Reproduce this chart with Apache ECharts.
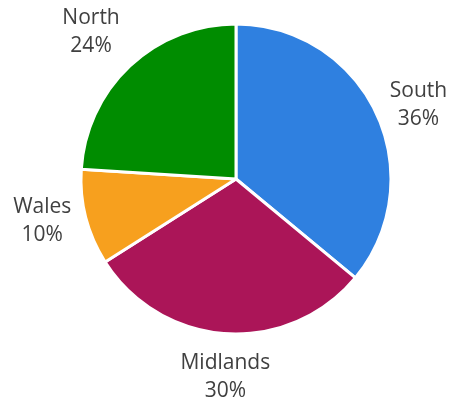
<!DOCTYPE html>
<html>
<head>
<meta charset="utf-8">
<script src="https://cdn.jsdelivr.net/npm/echarts@6/dist/echarts.min.js"></script>
<style>
  html, body { margin: 0; padding: 0; background: #fff; }
  #main { width: 453px; height: 405px; }
</style>
</head>
<body>
<div id="main"></div>
<script>
var regions = ['South', 'Midlands', 'Wales', 'North'];
var shares = [36, 30, 10, 24];
var colours = ['#2F80E0', '#AB1558', '#F7A01E', '#008C00'];

var pieCenter = [236, 179];

var pieData = [];
for (var i = 0; i < regions.length; i++) {
    pieData.push({ name: regions[i], value: shares[i], itemStyle: { color: colours[i] } });
}

function clamp1(v) {
    return Math.max(-1, Math.min(1, v));
}

// push the label box away from the anchor point, more so along the main direction
function spread(n, k) {
    var a = Math.abs(n) - 0.4;
    if (a < 0) a = 0;
    return (n < 0 ? -1 : 1) * clamp1(a * k);
}

var myChart = echarts.init(document.getElementById('main'));
var option = {
    animation: false,
    series: [
        {
            type: 'pie',
            center: pieCenter,
            radius: [0, 155],
            startAngle: 90,
            clockwise: true,
            avoidLabelOverlap: false,
            data: pieData,
            itemStyle: { borderColor: '#fff', borderWidth: 3 },
            label: {
                show: true,
                position: 'outside',
                formatter: '{b}\n{d}%',
                fontFamily: 'Open Sans',
                fontSize: 21,
                lineHeight: 28,
                color: '#404040',
                distanceToLabelLine: 0
            },
            labelLine: { show: false, length: 15, length2: 0 },
            labelLayout: function (p) {
                var r = p.labelRect;
                var ax = r.x + r.width / 2;
                if (p.align === 'left') ax = r.x;
                if (p.align === 'right') ax = r.x + r.width;
                var ay = r.y + r.height / 2;
                var dx = ax - pieCenter[0];
                var dy = ay - pieCenter[1];
                var len = Math.sqrt(dx * dx + dy * dy);
                var nx = dx / len;
                var ny = dy / len;
                return {
                    x: ax + r.width / 2 * spread(nx, 3.5),
                    y: ay + r.height / 2 * spread(ny, 2.5),
                    align: 'center',
                    verticalAlign: 'middle'
                };
            }
        }
    ]
};
myChart.setOption(option);
</script>
</body>
</html>
